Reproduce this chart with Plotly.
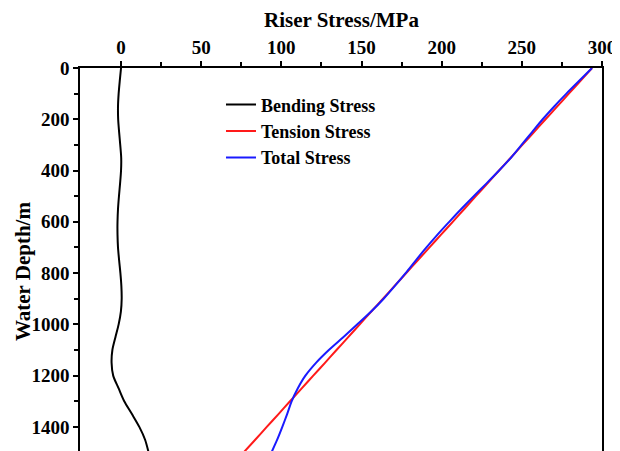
import plotly.graph_objects as go

# Water depth (m)
depth = [0, 50, 100, 150, 200, 250, 300, 350, 400, 450, 500, 550, 600, 650, 700,
         750, 800, 850, 900, 950, 1000, 1050, 1100, 1150, 1200, 1250, 1300, 1350,
         1400, 1450, 1500]

# Bending stress (MPa)
bending = [0.0, -0.8, -1.5, -1.9, -1.8, -1.2, -0.5, 0.1, 0.0, -0.6, -1.3, -1.9,
           -2.2, -2.2, -1.9, -1.2, -0.4, 0.2, 0.4, -0.1, -1.5, -3.5, -5.4, -5.9,
           -4.9, -1.5, 2.0, 6.8, 11.4, 15.0, 17.2]

# Tension stress (MPa)
tension = [293.8, 286.6, 279.3, 272.1, 264.8, 257.6, 250.3, 243.1, 235.8, 228.6,
           221.3, 214.1, 206.9, 199.6, 192.4, 185.1, 177.9, 170.6, 163.4, 156.1,
           148.9, 141.7, 134.4, 127.2, 119.9, 112.7, 105.4, 98.2, 90.9, 83.7, 76.4]

# Total stress (MPa)
total = [293.8, 285.8, 277.8, 270.2, 263.0, 256.4, 249.8, 243.2, 235.8, 228.0,
         220.0, 212.2, 204.7, 197.4, 190.5, 183.9, 177.5, 170.8, 163.8, 156.0,
         147.4, 138.6, 129.6, 121.6, 115.0, 110.2, 106.4, 103.6, 100.6, 97.4, 93.8]

x_ticks = [0, 50, 100, 150, 200, 250, 300]
y_ticks = [0, 200, 400, 600, 800, 1000, 1200, 1400]

FONT = "Liberation Serif"

fig = go.Figure()
series = [("Bending Stress", bending, "#000000"),
          ("Tension Stress", tension, "#ff1a1a"),
          ("Total Stress", total, "#1a1aff")]
for name, vals, col in series:
    fig.add_trace(go.Scatter(
        x=vals, y=depth, mode="lines", name=name,
        line=dict(color=col, width=2, shape="spline", smoothing=0.8),
    ))

fig.update_layout(
    width=612, height=443,
    margin=dict(l=72, r=18, t=60, b=0),
    paper_bgcolor="white", plot_bgcolor="white",
    font=dict(family=FONT, color="black"),
    legend=dict(
        x=0.2701, y=0.952, xanchor="left", yanchor="top",
        bgcolor="rgba(0,0,0,0)",
        font=dict(family=FONT, size=18, weight="bold", color="black"),
    ),
    xaxis=dict(
        side="top", range=[-25.6, 300], tickvals=x_ticks,
        ticktext=[str(v) for v in x_ticks], automargin=False,
        ticklabeloverflow="allow",
        showline=True, linecolor="black", linewidth=1.5, mirror=False,
        ticks="outside", ticklen=5, tickwidth=1.5, tickcolor="black",
        minor=dict(tickvals=[25, 75, 125, 175, 225, 275], ticks="outside",
                   ticklen=4, tickwidth=1.5, tickcolor="black"),
        showgrid=False, zeroline=False,
        tickfont=dict(family=FONT, size=19, weight="bold"),
    ),
    yaxis=dict(
        range=[1494, 0], tickvals=y_ticks, ticktext=[str(v) for v in y_ticks],
        automargin=False,
        showline=True, linecolor="black", linewidth=1.5, mirror=True,
        ticks="outside", ticklen=5, tickwidth=1.5, tickcolor="black",
        minor=dict(tickvals=[100, 300, 500, 700, 900, 1100, 1300], ticks="outside",
                   ticklen=4, tickwidth=1.5, tickcolor="black"),
        showgrid=False, zeroline=False,
        tickfont=dict(family=FONT, size=19, weight="bold"),
    ),
    annotations=[
        dict(text="Riser Stress/MPa", xref="paper", yref="paper", x=0.5, y=1.1253,
             xanchor="center", yanchor="middle", showarrow=False,
             font=dict(family=FONT, size=21, weight="bold", color="black")),
        dict(text="Water Depth/m", xref="paper", yref="paper", x=-0.109, y=0.47,
             xanchor="center", yanchor="middle", showarrow=False, textangle=-90,
             font=dict(family=FONT, size=21, weight="bold", color="black")),
    ],
)

fig.write_html("out.html")
